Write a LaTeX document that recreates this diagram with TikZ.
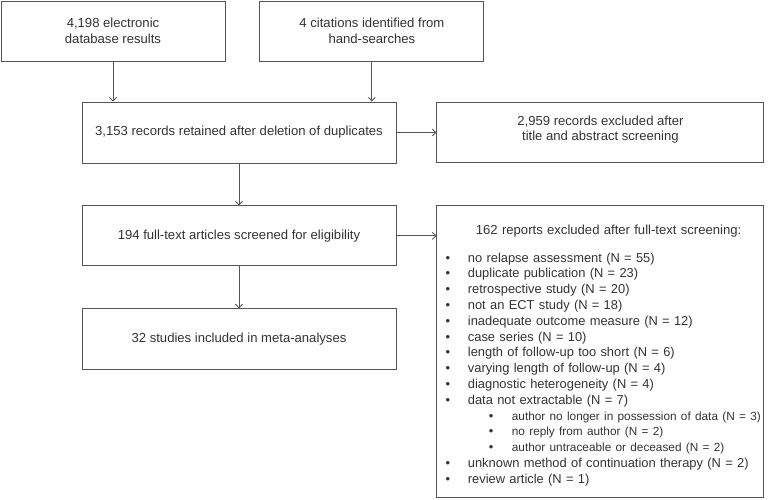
\documentclass[tikz,border=0pt]{standalone}
\usepackage{fontspec}
\setmainfont{Liberation Sans}
\usetikzlibrary{positioning, arrows.meta}
\definecolor{linegray}{HTML}{555555}
\definecolor{textgray}{HTML}{333333}
\newcommand{\bul}[1]{\mbox{\hspace{3.7pt}\makebox[22.3pt][l]{\textbullet}#1}}
\newcommand{\subbul}[1]{\mbox{\hspace{46.9pt}\makebox[23.1pt][l]{\textbullet}{\fontsize{11.8}{15.8}\selectfont#1}}}

\begin{document}
\begin{tikzpicture}[>={Straight Barb[length=3.5pt,width=7pt]}, line width=0.9pt, every node/.style={align=center, text=textgray, font=\fontsize{13.1}{16}\selectfont}, box/.style={draw=linegray, minimum height=60pt, inner sep=3pt}]
    \useasboundingbox (0,0) rectangle (770pt,-499pt);

    % Search results
    \node (db) [box, minimum width=224pt] at (113pt,-31pt) {4,198 electronic\\database results};
    \node (hand) [box, minimum width=224pt, right=34pt of db] {4 citations identified from\\hand-searches};

    % Main path
    \node (records) [box, minimum width=314pt, minimum height=61pt] at (239pt,-132.5pt) {3,153 records retained after deletion of duplicates};
    \node (fulltext) [box, minimum width=314pt, below=42pt of records] {194 full-text articles screened for eligibility};
    \node (included) [box, minimum width=314pt, minimum height=61pt, below=42pt of fulltext] {32 studies included in meta-analyses};

    % Exclusions
    \node (titleexcl) [box, minimum width=327pt, right=40pt of records, font=\fontsize{13.1}{15}\selectfont] {2,959 records excluded after\\title and abstract screening\\[-6pt]\mbox{}};
    \node (fullexcl) [box, minimum height=292pt, right=40pt of fulltext.north east, anchor=north west, align=left, text width=317pt, inner xsep=5pt, font=\fontsize{12.9}{15.8}\selectfont] {%
        \mbox{\hspace{34pt}\rule{0pt}{25pt}\fontsize{13.1}{15.8}\selectfont 162 reports excluded after full-text screening:}\\[11.9pt]
        \bul{no relapse assessment (N = 55)}\\
        \bul{duplicate publication (N = 23)}\\
        \bul{retrospective study (N = 20)}\\
        \bul{not an ECT study (N = 18)}\\
        \bul{inadequate outcome measure (N = 12)}\\
        \bul{case series (N = 10)}\\
        \bul{length of follow-up too short (N = 6)}\\
        \bul{varying length of follow-up (N = 4)}\\
        \bul{diagnostic heterogeneity (N = 4)}\\
        \bul{data not extractable (N = 7)}\\
        \subbul{author no longer in possession of data (N = 3)}\\
        \subbul{no reply from author (N = 2)}\\
        \subbul{author untraceable or deceased (N = 2)}\\
        \bul{unknown method of continuation therapy (N = 2)}\\
        \bul{review article (N = 1)\rule[-11pt]{0pt}{11pt}}};

    % Connection arrows
    \draw[->, linegray] (db.south) -- (db.south |- records.north);
    \draw[->, linegray] (hand.south) -- (hand.south |- records.north);
    \draw[->, linegray] (records) -- (fulltext);
    \draw[->, linegray] (fulltext) -- (included);
    \draw[->, linegray] (records) -- (titleexcl);
    \draw[->, linegray] (fulltext.east) -- (fulltext.east -| fullexcl.west);
\end{tikzpicture}
\end{document}
